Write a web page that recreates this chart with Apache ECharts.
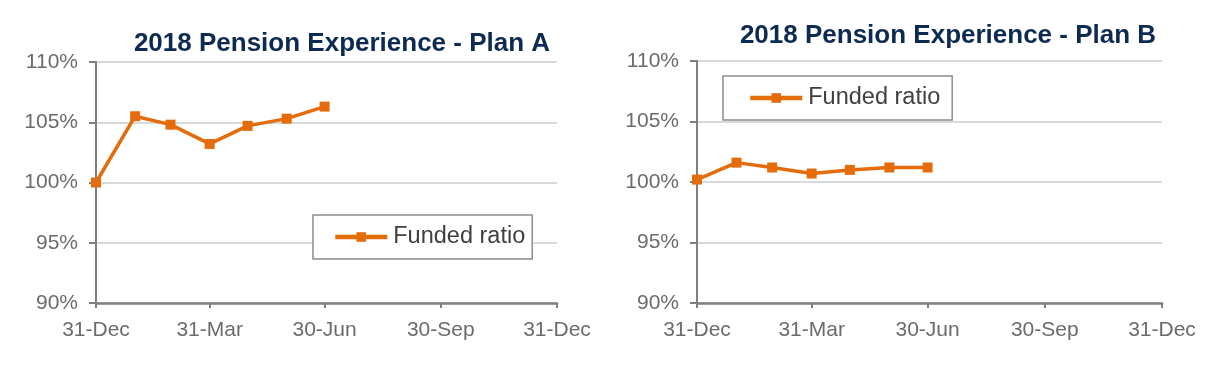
<!DOCTYPE html>
<html>
<head>
<meta charset="utf-8">
<script src="https://cdn.jsdelivr.net/npm/echarts@6/dist/echarts.min.js"></script>
<style>
html,body{margin:0;padding:0;background:#fff;}
#c{width:1228px;height:374px;}
</style>
</head>
<body>
<div id="c"></div>
<script>
// ---- data ----
var titleA = '2018 Pension Experience - Plan A';
var titleB = '2018 Pension Experience - Plan B';
var seriesName = 'Funded ratio';
// days after 31-Dec-2017 for each month end observed
var pointDays = [0, 31, 59, 90, 120, 151, 181];
var planA = [100.0, 105.5, 104.8, 103.2, 104.7, 105.3, 106.3];
var planB = [100.2, 101.6, 101.2, 100.7, 101.0, 101.2, 101.2];
// x-axis tick positions (days) and labels
var tickDays = [0, 90, 181, 273, 365];
var tickLabels = ['31-Dec', '31-Mar', '30-Jun', '30-Sep', '31-Dec'];
var yTicks = [90, 95, 100, 105, 110];

var FONT = "'Liberation Sans', Arial, sans-serif";
var ORANGE = '#E46C0A';
var AXIS = '#7f7f7f';
var LABEL = '#6b6b6b';

function pairs(vals) {
  return pointDays.map(function (d, i) { return [d, vals[i]]; });
}

function xAxis(idx) {
  return {
    type: 'value', gridIndex: idx, min: 0, max: 365,
    axisLine: { show: true, lineStyle: { color: AXIS, width: 2.5 } },
    axisTick: { show: true, customValues: tickDays, length: 5, lineStyle: { color: AXIS, width: 2 } },
    axisLabel: {
      customValues: tickDays, color: LABEL, fontFamily: FONT, fontSize: 21, margin: 17,
      formatter: function (v) { var k = tickDays.indexOf(v); return k >= 0 ? tickLabels[k] : ''; }
    },
    splitLine: { show: false }
  };
}
function yAxis(idx) {
  return {
    type: 'value', gridIndex: idx, min: yTicks[0], max: yTicks[yTicks.length - 1], interval: 5,
    axisLine: { show: true, lineStyle: { color: AXIS, width: 2 } },
    axisTick: { show: true, length: 7, lineStyle: { color: AXIS, width: 2 } },
    axisLabel: { color: LABEL, fontFamily: FONT, fontSize: 21, margin: 18, formatter: '{value}%' },
    splitLine: { show: true, lineStyle: { color: '#d9d9d9', width: 2 } }
  };
}
function series(idx, vals) {
  return {
    type: 'line', name: seriesName, xAxisIndex: idx, yAxisIndex: idx,
    data: pairs(vals), symbol: 'rect', symbolSize: 10, showSymbol: true,
    lineStyle: { color: ORANGE, width: 3.5 }, itemStyle: { color: ORANGE },
    animation: false
  };
}
function legend(left, top, padL, padR) {
  return {
    data: [seriesName], left: left, top: top, orient: 'horizontal',
    backgroundColor: '#fff', borderColor: '#8c8c8c', borderWidth: 1.5, borderRadius: 0,
    padding: [10, padR, 10, padL], itemWidth: 52, itemHeight: 12, itemGap: 0,
    lineStyle: { width: 4.5, color: ORANGE },
    textStyle: { color: '#404040', fontFamily: FONT, fontSize: 23.5, padding: [0, 0, 0, 1] },
    selectedMode: false
  };
}

var chart = echarts.init(document.getElementById('c'), null, { renderer: 'canvas' });
chart.setOption({
  animation: false,
  title: [
    { text: titleA, left: 337, top: 26, textAlign: 'center',
      textStyle: { color: '#0d2b52', fontFamily: FONT, fontSize: 26, fontWeight: 'bold' } },
    { text: titleB, left: 943, top: 18, textAlign: 'center',
      textStyle: { color: '#0d2b52', fontFamily: FONT, fontSize: 26, fontWeight: 'bold' } }
  ],
  legend: [legend(313, 215, 20, 7), legend(723, 76, 25, 12)],
  grid: [
    { left: 96, right: 1228 - 557, top: 62, bottom: 374 - 303 },
    { left: 697, right: 1228 - 1162, top: 61, bottom: 374 - 303 }
  ],
  xAxis: [xAxis(0), xAxis(1)],
  yAxis: [yAxis(0), yAxis(1)],
  series: [series(0, planA), series(1, planB)]
});
</script>
</body>
</html>
